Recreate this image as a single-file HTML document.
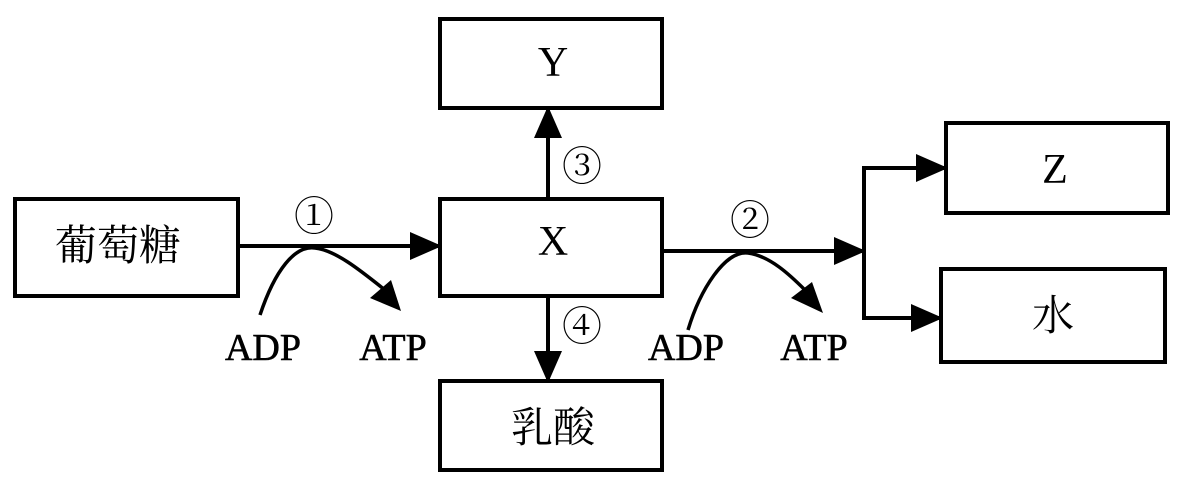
<!DOCTYPE html>
<html><head><meta charset="utf-8"><style>
body{margin:0;background:#fff}
svg{display:block}
</style></head><body>
<svg width="1180" height="487" viewBox="0 0 1180 487" font-family="'Liberation Serif','Times New Roman','Noto Serif CJK SC',serif">
<defs>
<marker id="b" markerWidth="32" markerHeight="32" refX="30" refY="16" orient="auto" markerUnits="userSpaceOnUse"><path d="M0,2 L32,16 L0,30Z"/></marker></defs>
<g fill="none" stroke="#000" stroke-width="4">
<rect x="15" y="199" width="223" height="97"/>
<rect x="440" y="199" width="222" height="97"/>
<rect x="440" y="19" width="222" height="89"/>
<rect x="440" y="381" width="222" height="89"/>
<rect x="946" y="123" width="222" height="90"/>
<rect x="941" y="269" width="224" height="93"/>
<line x1="238" y1="246" x2="440" y2="246" marker-end="url(#b)"/>
<line x1="548" y1="199" x2="548" y2="108" marker-end="url(#b)"/>
<line x1="548" y1="296" x2="548" y2="381" marker-end="url(#b)"/>
<line x1="662" y1="251" x2="864" y2="251" marker-end="url(#b)"/>
<path d="M864,168 V318"/>
<line x1="862" y1="168" x2="946" y2="168" marker-end="url(#b)"/>
<line x1="862" y1="318" x2="941" y2="318" marker-end="url(#b)"/>
<path d="M260,315 C275,270 295,245 315,248 C335,250 360,270 385,290" stroke-width="3.5"/>
<path d="M688,330 C700,290 725,250 748,253 C770,256 790,275 805,290" stroke-width="3.5"/>
</g>
<path d="M370,298 L401,311 L391,280Z"/>
<path d="M791,298 L823,313 L812,282Z"/>
<g font-size="42" text-anchor="middle">
<text x="118" y="260">葡萄糖</text>
<text x="553" y="255">X</text>
<text x="553" y="76">Y</text>
<text x="553" y="442">乳酸</text>
<text x="1055" y="183">Z</text>
<text x="1053" y="330">水</text>
</g>
<g font-size="38" text-anchor="middle" stroke="#000" stroke-width="0.6">
<text x="263" y="360">ADP</text>
<text x="393" y="360">ATP</text>
<text x="686" y="360">ADP</text>
<text x="814" y="360">ATP</text>
</g>
<g font-size="40" text-anchor="middle">
<text x="314" y="230">①</text>
<text x="750" y="234">②</text>
<text x="582" y="180">③</text>
<text x="582" y="340">④</text>
</g>
</svg>
</body></html>
